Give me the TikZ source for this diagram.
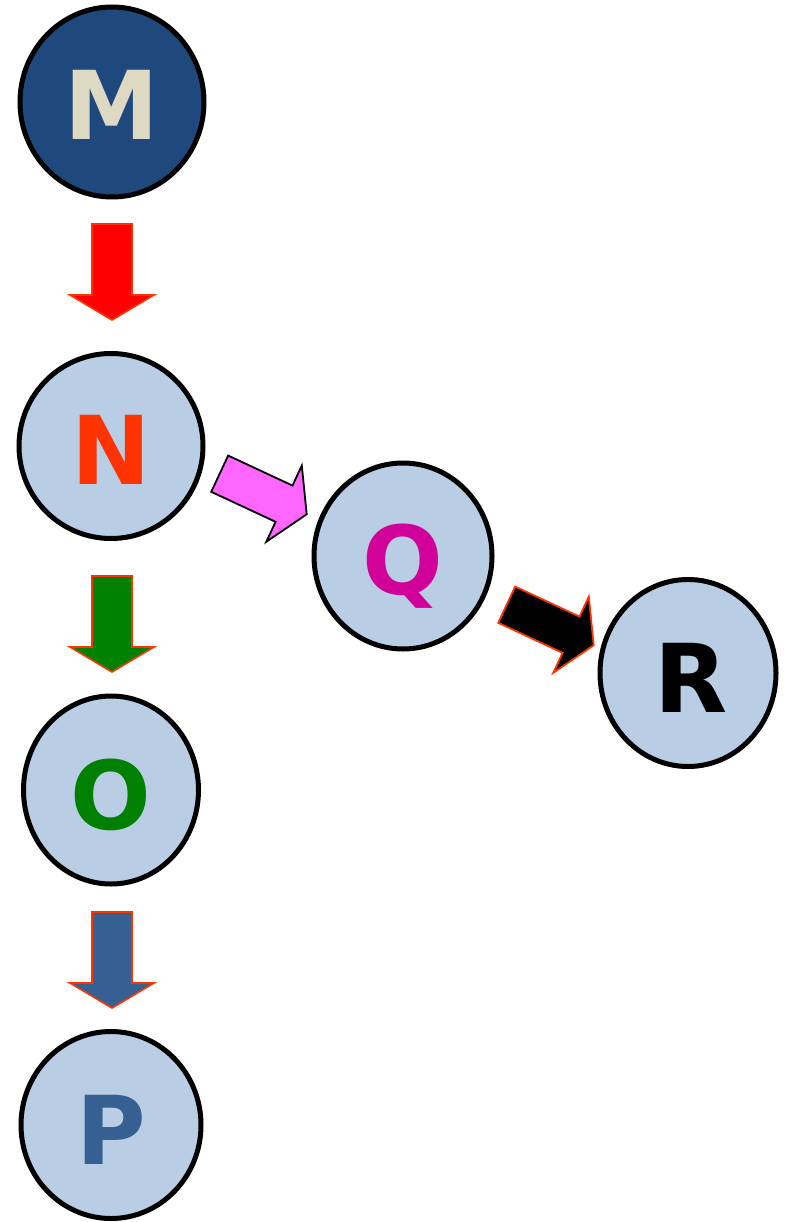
\documentclass[tikz,border=0pt]{standalone}
\usepackage{fontspec}
\setmainfont{DejaVu Sans}
\usetikzlibrary{shapes.geometric}
\definecolor{lightfill}{HTML}{B9CDE5}
\definecolor{darkfill}{HTML}{1F497D}
\definecolor{mtext}{HTML}{DDD9C3}
\definecolor{ntext}{HTML}{FF3300}
\definecolor{otext}{HTML}{008000}
\definecolor{ptext}{HTML}{376092}
\definecolor{qtext}{HTML}{D10098}
\definecolor{pinkfill}{HTML}{FF66FF}
\definecolor{edgered}{HTML}{FF3300}
\tikzset{
  circ/.style={ellipse, draw=black, line width=5pt, fill=lightfill, inner sep=0pt},
  lbl/.style={font=\fontsize{95}{95}\selectfont\bfseries, inner sep=0pt, text height=69pt, text depth=0pt},
  pics/blockarr/.style={code={
    \path[pic actions] (0,-20) -- (71,-20) -- (71,-42) -- (96,0) -- (71,42) -- (71,20) -- (0,20) -- cycle;
  }},
  downarr/.style={rotate=-90, line width=1.6pt, line join=miter},
}
\begin{document}
\begin{tikzpicture}[x=1pt,y=-1pt]
\useasboundingbox (0,0) rectangle (786,1222);
% nodes
\node[circ, fill=darkfill, minimum width=184pt, minimum height=190pt] (M) at (112,102) {};
\node[circ, minimum width=184pt, minimum height=185pt] (N) at (111,446) {};
\node[circ, minimum width=175pt, minimum height=188pt] (O) at (111,790) {};
\node[circ, minimum width=180pt, minimum height=187pt] (P) at (111,1125) {};
\node[circ, minimum width=178pt, minimum height=186pt] (Q) at (403,556) {};
\node[circ, minimum width=176pt, minimum height=187pt] (R) at (688,673) {};
% labels
\node[lbl, text=mtext] (Mt) at ([yshift=-3pt]M.center) {M};
\node[lbl, text=ntext] (Nt) at ([yshift=-4pt]N.center) {N};
\node[lbl, text=otext] (Ot) at ([yshift=-5pt]O.center) {O};
\node[lbl, text=ptext] (Pt) at ([yshift=-5pt]P.center) {P};
\node[lbl, text=qtext] (Qt) at ([yshift=-4pt]Q.center) {Q};
\node[lbl, text=black] (Rt) at ([yshift=-5pt,xshift=3pt]R.center) {R};
% block arrows
\coordinate (a1) at (112,224);
\coordinate (a2) at (112,576);
\coordinate (a3) at (112,912);
\coordinate (a4) at (219.7,473.7);
\coordinate (a5) at (506.7,604.7);
\pic[downarr, fill=red, draw=edgered] at (a1) {blockarr};
\pic[downarr, fill=otext, draw=edgered] at (a2) {blockarr};
\pic[downarr, fill=ptext, draw=edgered] at (a3) {blockarr};
\pic[rotate=-25, fill=pinkfill, draw=black, line width=1.8pt] at (a4) {blockarr};
\pic[rotate=-25, fill=black, draw=edgered, line width=1.8pt] at (a5) {blockarr};
\end{tikzpicture}
\end{document}
